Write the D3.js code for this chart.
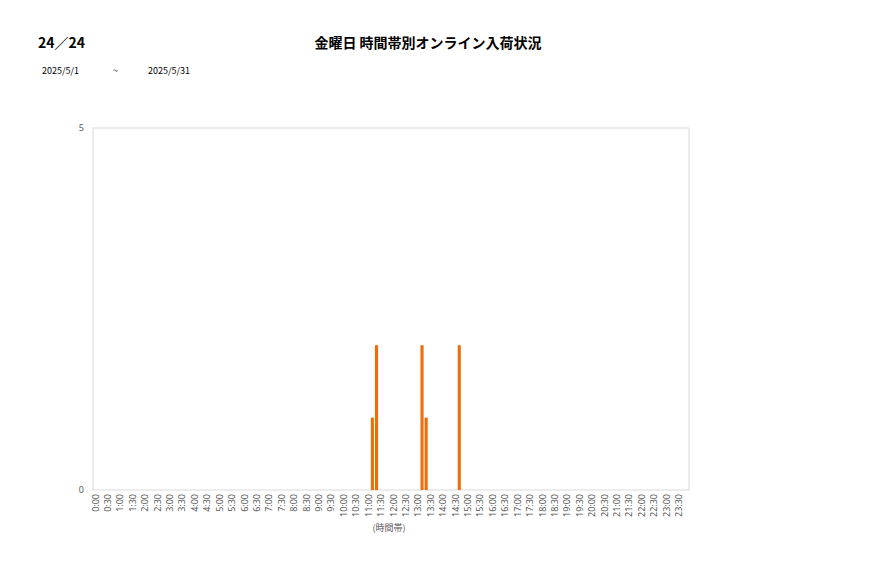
<!DOCTYPE html>
<html><head><meta charset="utf-8">
<script src="https://cdn.jsdelivr.net/npm/d3@7"></script>
<style>
body{margin:0;background:#fff;}
svg{display:block;font-family:"Noto Sans CJK JP","Noto Sans",sans-serif;}
</style></head>
<body><div id="chart"></div>
<script>
// 10-minute slots, 0:00 .. 23:50
const slots = d3.range(144).map(i => Math.floor(i/6) + ":" + String((i%6)*10).padStart(2,"0"));
// values per slot (only non-zero slots listed)
const nonZeroSlots = ["11:10","11:20","13:10","13:20","14:40"];
const nonZeroValues = [1, 2, 2, 1, 2];
const yTicks = [0, 5];
const titleText = "金曜日 時間帯別オンライン入荷状況";
const pageText = "24／24";
const dateFrom = "2025/5/1";
const dateTo = "2025/5/31";
const xAxisTitle = "(時間帯)";

const values = slots.map(s => { const k = nonZeroSlots.indexOf(s); return k >= 0 ? nonZeroValues[k] : 0; });

const W = 877, H = 578;
const svg = d3.select("#chart").append("svg").attr("width", W).attr("height", H);
const L = 93, R = 689, T = 128, B = 490;

const x = d3.scaleBand().domain(slots).range([L, R]).paddingInner(0.25).paddingOuter(0.125);
const y = d3.scaleLinear().domain([0, 5]).range([B, T]);

// plot border
svg.append("rect").attr("x", L).attr("y", T).attr("width", R - L).attr("height", B - T)
  .attr("fill", "none").attr("stroke", "#d9d9d9").attr("stroke-width", 1);

// bars
svg.append("g").selectAll("rect").data(slots.map((s, i) => ({s, v: values[i]})).filter(d => d.v > 0))
  .join("rect")
  .attr("x", d => x(d.s)).attr("width", x.bandwidth())
  .attr("y", d => y(d.v)).attr("height", d => y(0) - y(d.v))
  .attr("fill", "#f26c0d");

// y axis
const yAxis = d3.axisLeft(y).tickValues(yTicks).tickSize(0).tickPadding(9).tickFormat(d3.format("d"));
const gy = svg.append("g").attr("transform", `translate(${L},0)`).call(yAxis);
gy.select(".domain").remove();
gy.selectAll("text").attr("font-size", 9).attr("fill", "#595959").attr("font-family", "'Noto Sans', sans-serif");

// x axis
const xAxis = d3.axisBottom(x).tickValues(slots.filter((s, i) => i % 3 === 0)).tickSize(0).tickPadding(0);
const gx = svg.append("g").attr("transform", `translate(0,${B})`).call(xAxis);
gx.select(".domain").remove();
gx.selectAll("text")
  .attr("font-size", 9).attr("fill", "#595959").attr("font-family", "'Noto Sans', sans-serif")
  .attr("text-anchor", "end").attr("dy", null)
  .attr("transform", function(){ return "translate(0,4) rotate(-90)"; })
  .attr("x", 0).attr("y", 0).attr("dominant-baseline", "central");

// x axis title
svg.append("text").attr("x", (L + R) / 2 - 2).attr("y", 531).attr("text-anchor", "middle")
  .attr("font-size", 9).attr("fill", "#595959").text(xAxisTitle);

// title
svg.append("text").attr("x", 428).attr("y", 48).attr("text-anchor", "middle")
  .attr("font-size", 14).attr("font-weight", "bold").attr("fill", "#000").text(titleText);
svg.append("text").attr("x", 38).attr("y", 48)
  .attr("font-size", 14).attr("font-weight", "bold").attr("fill", "#000").text(pageText);

// dates
svg.append("text").attr("x", 42).attr("y", 74).attr("font-size", 9).attr("fill", "#000").text(dateFrom);
svg.append("text").attr("x", 113).attr("y", 74).attr("font-size", 9).attr("fill", "#000").text("~");
svg.append("text").attr("x", 148).attr("y", 74).attr("font-size", 9).attr("fill", "#000").text(dateTo);
</script></body></html>
